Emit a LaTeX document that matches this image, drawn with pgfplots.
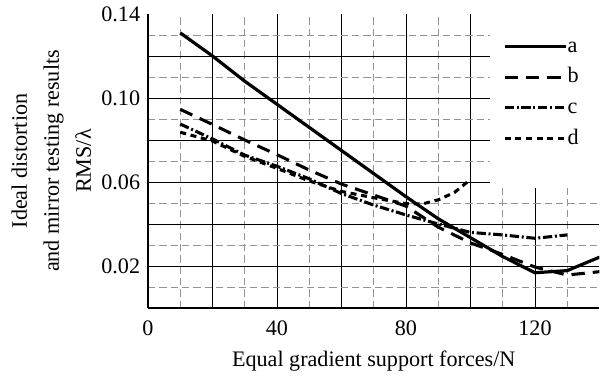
\documentclass[border=0pt]{standalone}
\usepackage{fontspec}
\setmainfont{Liberation Serif}
\usepackage{pgfplots}
\pgfplotsset{compat=1.18}
\begin{document}
\begin{tikzpicture}
\useasboundingbox (-111pt,-51pt) rectangle (339pt,231pt);
\begin{axis}[
  scale only axis, width=338.6pt, height=220.5pt,
  xmin=0, xmax=140, ymin=0, ymax=0.14,
  axis x line=bottom, axis y line=left,
  axis line style={-, line width=1.2pt},
  xtick={0,20,40,60,80,100,120}, xticklabels={0,,40,,80,,120},
  minor xtick={10,30,50,70,90,110,130},
  ytick={0,0.02,0.04,0.06,0.08,0.10,0.12}, yticklabels={,0.02,,0.06,,0.10,},
  extra y ticks={0.14}, extra y tick labels={0.14}, extra y tick style={grid=none},
  minor ytick={0.01,0.03,0.05,0.07,0.09,0.11,0.13},
  grid=both,
  major grid style={black, line width=0.6pt, solid},
  minor grid style={gray!85, line width=0.6pt, dash pattern=on 5.5pt off 3pt},
  major tick length=0pt, minor tick length=0pt,
  tick label style={font=\fontsize{16.6}{20}\selectfont},
  yticklabel style={xshift=-2.4pt},
  xticklabel style={yshift=-6pt},
  xlabel={Equal gradient support forces/N},
  xlabel style={at={(axis description cs:0.5,0)}, anchor=base, yshift=-44pt, font=\fontsize{16.6}{20}\selectfont},
  ylabel={Ideal distortion\\[4pt]and mirror testing results\\[4pt]RMS/λ},
  ylabel style={at={(axis description cs:-0.214,0.5)}, anchor=center, align=center, font=\fontsize{16.6}{20}\selectfont},
  legend cell align=left,
  legend style={draw=none, fill=none, at={(rel axis cs:0.786,0.925)}, anchor=north west,
    inner sep=0pt, row sep=0pt, font=\fontsize{16.6}{20}\selectfont,
    nodes={inner sep=0pt, text height=11.8pt, text depth=11.2pt},
    /tikz/every even column/.append style={column sep=5pt}},
  legend image code/.code={\draw[#1] (0pt,3.8pt) -- (46pt,3.8pt);},
]
\fill[white] (rel axis cs:0.7575,0.408) rectangle (rel axis cs:1.01,1.01);
\addplot[black, line width=2.4pt] coordinates {
(10,0.131) (20,0.120) (30,0.108) (40,0.097) (50,0.086) (60,0.075) (70,0.064) (80,0.053) (90,0.0425) (100,0.0335) (110,0.0245) (120,0.0168) (130,0.0178) (140,0.0242)};
\addlegendentry{a}
\addplot[black, line width=2.3pt, dash pattern=on 10pt off 6pt] coordinates {
(10,0.0946) (20,0.0874) (30,0.0800) (40,0.0730) (50,0.0657) (60,0.0590) (70,0.0538) (80,0.0485) (90,0.0385) (100,0.0310) (110,0.0255) (120,0.0195) (130,0.0157) (140,0.0173)};
\addlegendentry{b}
\addplot[black, line width=2.3pt, dash pattern=on 7pt off 2pt on 1.5pt off 2pt] coordinates {
(10,0.0876) (20,0.0805) (30,0.0728) (40,0.0675) (50,0.0615) (60,0.0545) (70,0.0490) (80,0.0443) (90,0.0400) (100,0.0360) (110,0.0348) (120,0.0332) (130,0.0348)};
\addlegendentry{c}
\addplot[black, line width=2.3pt, dash pattern=on 4.5pt off 3.5pt] coordinates {
(10,0.0837) (20,0.0795) (30,0.0722) (40,0.0665) (50,0.0605) (60,0.0555) (70,0.0525) (80,0.0497) (85,0.0495) (90,0.0515) (95,0.0550) (100,0.0612)};
\addlegendentry{d}
\end{axis}
\end{tikzpicture}
\end{document}
